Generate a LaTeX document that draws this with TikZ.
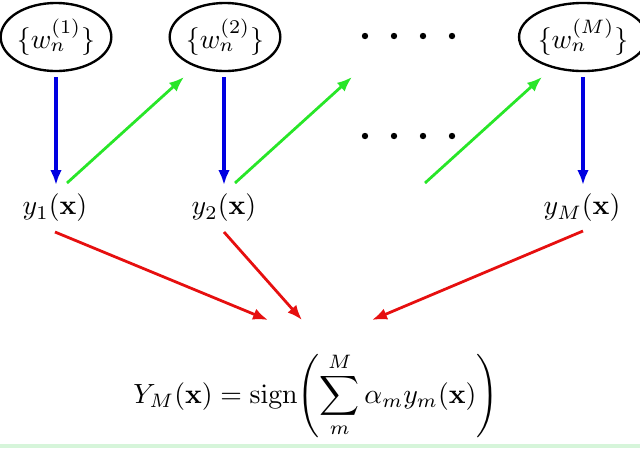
\documentclass[tikz,border=0pt]{standalone}
\usetikzlibrary{arrows.meta,shapes.geometric}
\definecolor{myblue}{RGB}{0,0,225}
\definecolor{mygreen}{RGB}{40,230,40}
\definecolor{myred}{RGB}{230,15,15}
\definecolor{bandgreen}{RGB}{214,245,218}
\begin{document}
\begin{tikzpicture}[x=0.36pt,y=-0.36pt,
  wnode/.style={ellipse,draw=black,line width=0.85pt,minimum width=38.5pt,minimum height=24.5pt,inner sep=0pt},
  lbl/.style={inner sep=0pt},
  bluearr/.style={draw=myblue,line width=1.15pt,-{Latex[length=5.4pt,width=4.2pt]}},
  greenarr/.style={draw=mygreen,line width=1pt,-{Latex[length=5.4pt,width=4.2pt]}},
  redarr/.style={draw=myred,line width=1pt,-{Latex[length=5.4pt,width=4.2pt]}},
  dotstyle/.style={fill=black}]
\useasboundingbox (0,0) rectangle (640,448);
\fill[bandgreen] (0,444) rectangle (640,448);
% weight sets
\node[wnode] (w1) at (56,37) {$\{w_n^{(1)}\}$};
\node[wnode] (w2) at (225,37) {$\{w_n^{(2)}\}$};
\node[wnode] (wM) at (583,37) {$\{w_n^{(M)}\}$};
% dots
\foreach \xx in {365,394,423,452} {
  \fill[dotstyle] (\xx,36) circle (3.2);
  \fill[dotstyle] (\xx,136) circle (3.2);
}
% classifiers
\node[lbl] (y1) at (55,208) {$y_1(\mathbf{x})$};
\node[lbl] (y2) at (224,208) {$y_2(\mathbf{x})$};
\node[lbl] (yM) at (582,208) {$y_M(\mathbf{x})$};
% final
\node[lbl] (F) at (316,395) {$\displaystyle Y_M(\mathbf{x}) = \mathrm{sign}\!\left(\sum_{m}^{M}\alpha_m y_m(\mathbf{x})\right)$};
% coordinates
\coordinate (b1s) at (56,77);  \coordinate (b1e) at (56,185);
\coordinate (b2s) at (224,77); \coordinate (b2e) at (224,185);
\coordinate (bMs) at (583,77); \coordinate (bMe) at (583,185);
\coordinate (g1s) at (67,183);  \coordinate (g1e) at (184,77);
\coordinate (g2s) at (235,183); \coordinate (g2e) at (352,77);
\coordinate (g3s) at (425,183); \coordinate (g3e) at (542,77);
\coordinate (r1s) at (55,232);  \coordinate (r1e) at (268,320);
\coordinate (r2s) at (224,232); \coordinate (r2e) at (302,320);
\coordinate (rMs) at (583,231); \coordinate (rMe) at (372,320);
% arrows
\draw[bluearr] (b1s) -- (b1e);
\draw[bluearr] (b2s) -- (b2e);
\draw[bluearr] (bMs) -- (bMe);
\draw[greenarr] (g1s) -- (g1e);
\draw[greenarr] (g2s) -- (g2e);
\draw[greenarr] (g3s) -- (g3e);
\draw[redarr] (r1s) -- (r1e);
\draw[redarr] (r2s) -- (r2e);
\draw[redarr] (rMs) -- (rMe);
\end{tikzpicture}
\end{document}
